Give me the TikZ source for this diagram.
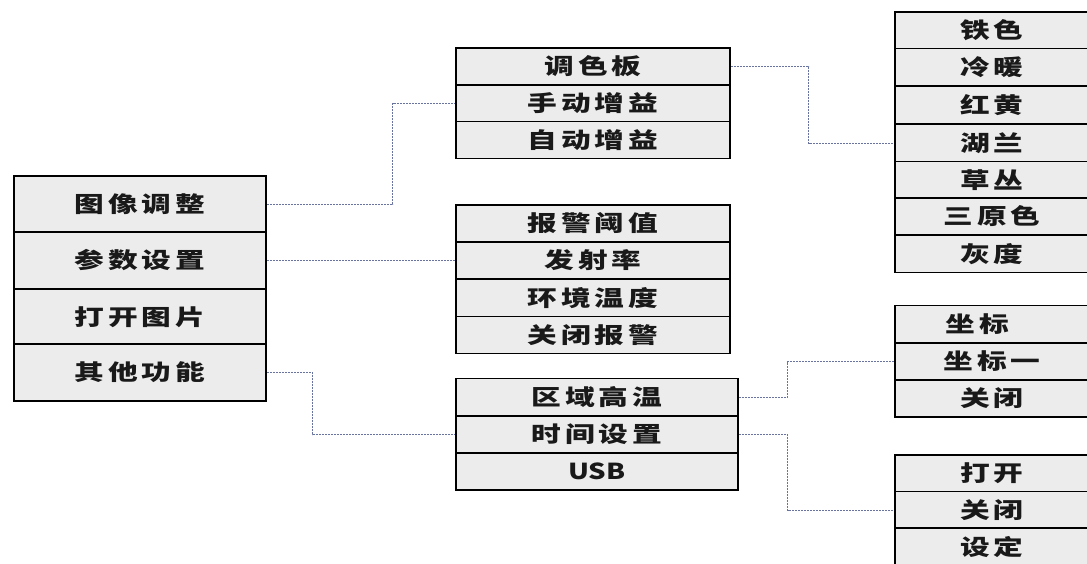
\documentclass[tikz,border=0pt]{standalone}
\usepackage{fontspec}
\newfontfamily\cjk[FakeStretch=1.35,LetterSpace=18]{Noto Sans CJK SC}
\newfontfamily\usbfont[FakeStretch=1.25]{Noto Sans CJK SC}
\definecolor{cellfill}{RGB}{236,236,236}
\definecolor{linkcol}{RGB}{105,115,160}
\begin{document}
\begin{tikzpicture}[x=1pt,y=-1pt,
  cell/.style={draw=black, line width=1.6pt, fill=cellfill, inner sep=0pt,
    font=\cjk\bfseries\fontsize{22}{22}\selectfont, text=black!90},
  wide/.style={cell, minimum width=252pt, minimum height=56.5pt},
  mid/.style={cell, minimum width=274pt, minimum height=37pt},
  midb/.style={cell, minimum width=282pt, minimum height=37pt},
  right/.style={cell, minimum width=194pt, minimum height=37pt},
  link/.style={draw=linkcol, line width=0.8pt, dash pattern=on 2pt off 1pt}]
\useasboundingbox[fill=white] (0,0) rectangle (1087,563);
% left menu
\node[wide] (L1) at (140,204) {图像调整};
\node[wide] (L2) at (140,260.5) {参数设置};
\node[wide] (L3) at (140,317) {打开图片};
\node[wide] (L4) at (140,372.5) {其他功能};
% image adjust submenu
\node[mid] (P1) at (593,66.5) {调色板};
\node[mid] (P2) at (593,103.5) {手动增益};
\node[mid] (P3) at (593,140) {自动增益};
% parameter submenu
\node[mid] (A1) at (593,223.5) {报警阈值};
\node[mid] (A2) at (593,260.5) {发射率};
\node[mid] (A3) at (593,298) {环境温度};
\node[mid] (A4) at (593,335) {关闭报警};
% other functions submenu
\node[midb] (F1) at (597,397) {区域高温};
\node[midb] (F2) at (597,434.5) {时间设置};
\node[midb] (F3) at (597,471.5) {\usbfont\bfseries\fontsize{22}{22}\selectfont USB};
% palettes
\node[right] (C1) at (992,30.5) {铁色};
\node[right] (C2) at (992,67) {冷暖};
\node[right] (C3) at (992,105) {红黄};
\node[right] (C4) at (992,143) {湖兰};
\node[right] (C5) at (992,180) {草丛};
\node[right] (C6) at (992,216.5) {三原色};
\node[right] (C7) at (992,254) {灰度};
% area high temp
\node[right] (Z1) at (992,324) {坐标\phantom{一}};
\node[right] (Z2) at (992,361.5) {坐标一};
\node[right] (Z3) at (992,398.5) {关闭};
% time setting
\node[right] (T1) at (992,473.5) {打开};
\node[right] (T2) at (992,510) {关闭};
\node[right] (T3) at (992,546.5) {设定};
% connectors
\draw[link] (L1.east) -- ++(126,0) |- (P2.west);
\draw[link] (L2.east) -- (A2.west);
\draw[link] (L4.east) -- ++(46,0) |- (F2.west);
\draw[link] (P1.east) -- ++(78,0) |- (C4.west);
\draw[link] (F1.east) -- ++(49,0) |- (Z2.west);
\draw[link] (F2.east) -- ++(49,0) |- (T2.west);
\end{tikzpicture}
\end{document}
